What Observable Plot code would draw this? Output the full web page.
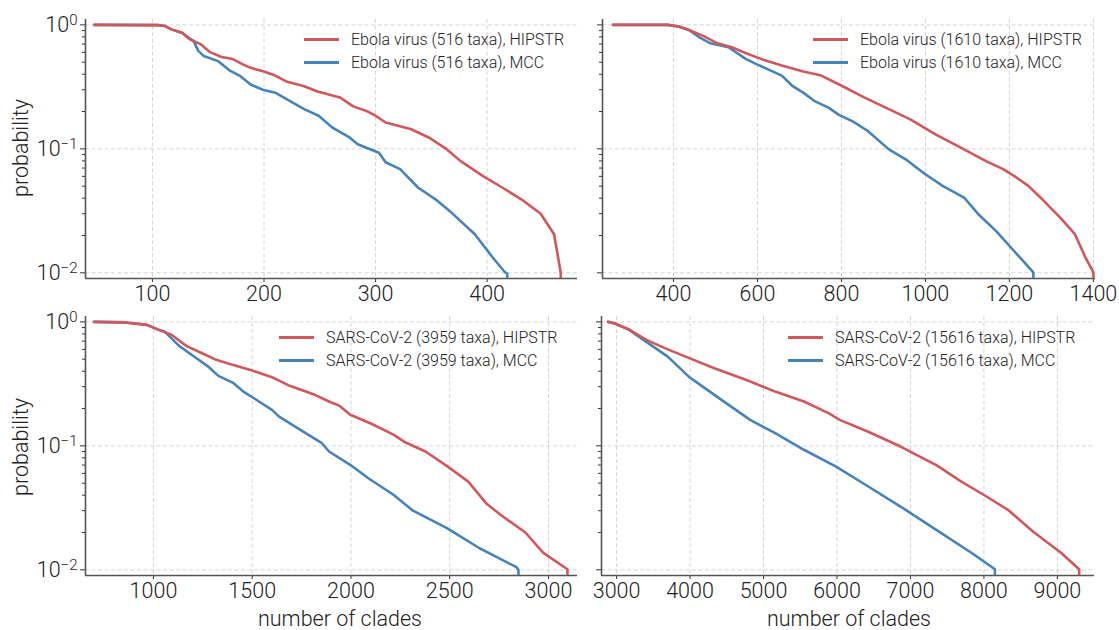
<!DOCTYPE html>
<html>
<head>
<meta charset="utf-8">
<script src="https://cdn.jsdelivr.net/npm/d3@7"></script>
<script src="https://cdn.jsdelivr.net/npm/@observablehq/plot@0.6"></script>
<style>
  body { margin: 0; background: #fff; }
  #root { position: relative; width: 1119px; height: 630px; overflow: hidden; background: #fff;
          font-family: Roboto, "Liberation Sans", "DejaVu Sans", sans-serif; font-weight: 300; color: #222; }
  .panel { position: absolute; }
  .panel svg { overflow: visible; font-family: Roboto, "Liberation Sans", sans-serif; font-size: 21.5px; font-weight: 300; color: #222; }
  .leg-row { position: absolute; height: 20px; display: flex; align-items: center; font-size: 16px; white-space: nowrap; }
  .leg-line { display: inline-block; width: 35px; height: 0; border-top: 3px solid; margin-right: 12px; }
  .lab { position: absolute; font-size: 21.5px; white-space: nowrap; }
</style>
</head>
<body>
<div id="root"></div>
<script>
// ---------------- data ----------------
const ebola516_hipstr_n = [48,105,111,117,127,133,143,152,162,172,181,188,200,210,220,236,248,268,280,293,300,309,332,348,364,376,396,412,431,448,460,466,466];
const ebola516_hipstr_p = [1,0.995,0.98,0.92,0.86,0.77,0.70,0.60,0.55,0.53,0.48,0.45,0.42,0.39,0.35,0.32,0.29,0.26,0.22,0.20,0.185,0.163,0.144,0.123,0.099,0.080,0.0605,0.0497,0.039,0.030,0.0205,0.0100,0.005];
const ebola516_mcc_n = [48,105,111,117,127,130,137,141,146,159,169,178,188,199,210,223,236,249,261,277,284,303,309,322,338,354,368,389,405,416,418,418];
const ebola516_mcc_p = [1,0.995,0.98,0.92,0.86,0.815,0.74,0.62,0.56,0.51,0.43,0.39,0.33,0.30,0.284,0.244,0.209,0.185,0.149,0.123,0.109,0.093,0.078,0.0686,0.0488,0.039,0.0306,0.0205,0.0133,0.0101,0.0099,0.005];

const ebola1610_hipstr_n = [256,386,412,437,471,505,539,573,616,658,709,752,803,854,913,964,981,1024,1092,1143,1185,1211,1245,1279,1321,1356,1381,1400,1400];
const ebola1610_hipstr_p = [1,1,0.97,0.91,0.815,0.71,0.66,0.59,0.52,0.47,0.42,0.39,0.32,0.26,0.209,0.173,0.16,0.131,0.099,0.08,0.0686,0.0605,0.0503,0.039,0.0279,0.0205,0.0133,0.0101,0.005];
const ebola1610_mcc_n = [256,386,412,437,463,488,531,573,599,624,658,684,709,735,769,794,828,862,913,956,998,1041,1092,1126,1168,1211,1257,1257];
const ebola1610_mcc_p = [1,1,0.97,0.91,0.79,0.71,0.66,0.53,0.48,0.44,0.39,0.32,0.284,0.244,0.215,0.188,0.166,0.14,0.099,0.081,0.063,0.0503,0.0405,0.0297,0.0218,0.015,0.0101,0.005];

const sars3959_hipstr_n = [699,858,967,1021,1093,1166,1238,1310,1401,1491,1600,1690,1817,1889,1943,1997,2106,2215,2269,2377,2485,2594,2684,2757,2883,2974,3096,3096];
const sars3959_hipstr_p = [1,0.99,0.946,0.87,0.785,0.64,0.566,0.50,0.45,0.41,0.358,0.305,0.258,0.228,0.21,0.178,0.15,0.123,0.108,0.09,0.069,0.0515,0.0345,0.0278,0.02,0.0137,0.0101,0.005];
const sars3959_mcc_n = [699,858,967,1021,1057,1130,1202,1274,1329,1401,1455,1509,1600,1636,1744,1853,1889,1998,2088,2215,2314,2486,2649,2838,2848,2848];
const sars3959_mcc_p = [1,0.99,0.946,0.87,0.835,0.64,0.53,0.44,0.367,0.324,0.274,0.242,0.195,0.172,0.1346,0.105,0.09,0.07,0.0548,0.0403,0.03,0.0217,0.015,0.0105,0.0100,0.005];

const sars15616_hipstr_n = [2884,2967,3162,3405,3697,3990,4331,4769,5159,5550,5891,6037,6426,6865,7352,7693,7985,8326,8667,9057,9296,9296];
const sars15616_hipstr_p = [1,0.976,0.873,0.716,0.60,0.51,0.423,0.34,0.274,0.228,0.183,0.162,0.130,0.0987,0.070,0.0515,0.0407,0.0305,0.0204,0.0136,0.0101,0.005];
const sars15616_mcc_n = [2884,2967,3162,3405,3697,3990,4428,4818,5159,5550,5988,6426,6865,7352,7839,8150,8150];
const sars15616_mcc_p = [1,0.976,0.87,0.69,0.525,0.358,0.235,0.162,0.1265,0.093,0.068,0.047,0.0324,0.021,0.0136,0.0101,0.005];

const seriesLabels = [
  ["Ebola virus (516 taxa), HIPSTR", "Ebola virus (516 taxa), MCC"],
  ["Ebola virus (1610 taxa), HIPSTR", "Ebola virus (1610 taxa), MCC"],
  ["SARS-CoV-2 (3959 taxa), HIPSTR", "SARS-CoV-2 (3959 taxa), MCC"],
  ["SARS-CoV-2 (15616 taxa), HIPSTR", "SARS-CoV-2 (15616 taxa), MCC"]
];
const xTickValues = [
  [100,200,300,400],
  [400,600,800,1000,1200,1400],
  [1000,1500,2000,2500,3000],
  [3000,4000,5000,6000,7000,8000,9000]
];
const yTickValues = [1, 0.1, 0.01];
const yMinorValues = [0.02,0.03,0.04,0.05,0.06,0.07,0.08,0.09,0.2,0.3,0.4,0.5,0.6,0.7,0.8,0.9];
const yLabel = "probability";
const xLabel = "number of clades";

// ---------------- build ----------------
const zip = (n, p) => n.map((v, i) => ({n: v, p: p[i]}));
const seriesData = [
  [zip(ebola516_hipstr_n, ebola516_hipstr_p), zip(ebola516_mcc_n, ebola516_mcc_p)],
  [zip(ebola1610_hipstr_n, ebola1610_hipstr_p), zip(ebola1610_mcc_n, ebola1610_mcc_p)],
  [zip(sars3959_hipstr_n, sars3959_hipstr_p), zip(sars3959_mcc_n, sars3959_mcc_p)],
  [zip(sars15616_hipstr_n, sars15616_hipstr_p), zip(sars15616_mcc_n, sars15616_mcc_p)]
];

const RED = "#d1575b";
const BLUE = "#4683bb";
const GRID = {stroke: "#c9c9c9", strokeOpacity: 1, strokeWidth: 0.8, strokeDasharray: "4,2.5"};
const SPINE = {stroke: "#555", strokeWidth: 1.6};
const yDomain = [0.009, 1.105];

const layout = [
  {left: 0,   top: 0,   width: 590, height: 300, mL: 85, mR: 13, mT: 19, mB: 22, xDomain: [40, 481],   showY: true,  leg: {x: 304, y: 39}},
  {left: 560, top: 0,   width: 559, height: 300, mL: 42, mR: 24, mT: 19, mB: 22, xDomain: [231, 1405], showY: false, leg: {x: 813, y: 39}},
  {left: 0,   top: 300, width: 590, height: 330, mL: 85, mR: 13, mT: 16, mB: 55, xDomain: [656, 3147], showY: true,  leg: {x: 279, y: 337}},
  {left: 560, top: 300, width: 559, height: 330, mL: 41, mR: 25, mT: 16, mB: 55, xDomain: [2795, 9505], showY: false, leg: {x: 788, y: 337}}
];

const root = document.getElementById("root");

layout.forEach((L, i) => {
  const [hip, mcc] = seriesData[i];
  const xt = xTickValues[i];
  const chart = Plot.plot({
    width: L.width, height: L.height,
    marginLeft: L.mL, marginRight: L.mR, marginTop: L.mT, marginBottom: L.mB,
    x: {domain: L.xDomain, label: null},
    y: {type: "log", domain: yDomain, label: null},
    marks: [
      Plot.gridX(xt, GRID),
      Plot.gridY(yTickValues, GRID),
      Plot.axisY(yMinorValues, {tickSize: 3, tickFormat: () => "", stroke: "#333", label: null}),
      Plot.axisY(yTickValues, {tickSize: 5, tickPadding: 3, stroke: "#333", label: null,
        tickFormat: L.showY ? (d => "10^" + Math.round(Math.log10(d))) : (() => "")}),
      Plot.axisX(xt, {tickSize: 4, tickPadding: 3, stroke: "#333", label: null, tickFormat: d => String(d)}),
      Plot.ruleX([L.xDomain[0]], SPINE),
      Plot.ruleY([yDomain[0]], SPINE),
      Plot.line(mcc, {x: "n", y: "p", stroke: BLUE, strokeWidth: 2.6, clip: true}),
      Plot.line(hip, {x: "n", y: "p", stroke: RED, strokeWidth: 2.6, clip: true})
    ]
  });
  const wrap = document.createElement("div");
  wrap.className = "panel";
  wrap.style.left = L.left + "px";
  wrap.style.top = L.top + "px";
  wrap.appendChild(chart);
  root.appendChild(wrap);

  // superscript exponents on y tick labels
  d3.select(chart).selectAll("text").each(function() {
    const t = this.textContent;
    const m = /^10\^(-?\d+)$/.exec(t);
    if (m) {
      const e = m[1].replace("-", "\u2212");
      this.textContent = "";
      const s = d3.select(this);
      s.append("tspan").text("10");
      s.append("tspan").attr("dy", "-0.42em").attr("font-size", "0.7em").text(e);
    }
  });

  // legend
  const cols = [RED, BLUE];
  seriesLabels[i].forEach((lab, k) => {
    const row = document.createElement("div");
    row.className = "leg-row";
    row.style.left = L.leg.x + "px";
    row.style.top = (L.leg.y + 23 * k - 10) + "px";
    const ln = document.createElement("span");
    ln.className = "leg-line";
    ln.style.borderTopColor = cols[k];
    const tx = document.createElement("span");
    tx.textContent = lab;
    row.appendChild(ln);
    row.appendChild(tx);
    root.appendChild(row);
  });
});

// axis titles
function addLabel(text, x, y, rotate) {
  const d = document.createElement("div");
  d.className = "lab";
  d.textContent = text;
  d.style.left = x + "px";
  d.style.top = y + "px";
  d.style.transform = "translate(-50%,-50%)" + (rotate ? " rotate(-90deg)" : "");
  root.appendChild(d);
}
addLabel(yLabel, 20, 148, true);
addLabel(yLabel, 20, 447, true);
addLabel(xLabel, 340, 618, false);
addLabel(xLabel, 849, 618, false);
</script>
</body>
</html>
